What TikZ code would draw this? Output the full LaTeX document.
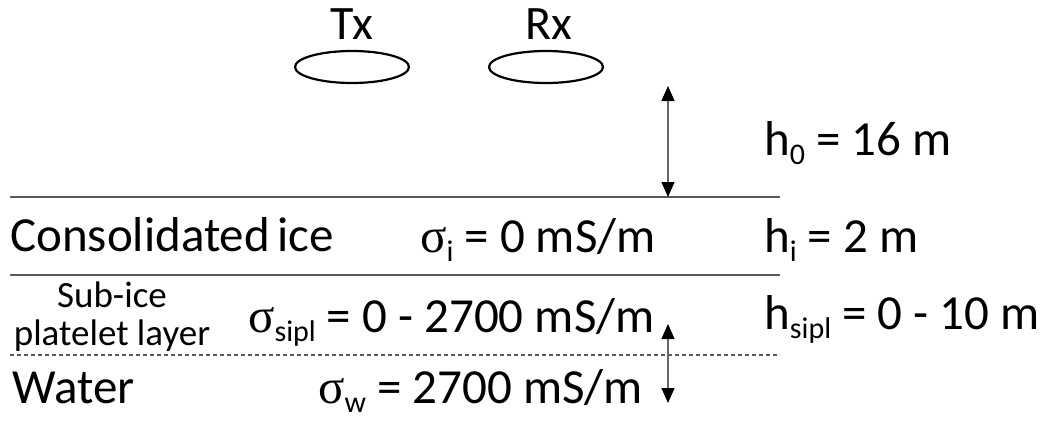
\documentclass[tikz,border=0pt]{standalone}
\usepackage{fontspec}
\setmainfont{Carlito}
\newfontfamily\grk{Liberation Serif}
\usetikzlibrary{arrows.meta,shapes.geometric}
\newcommand\lsub[1]{\raisebox{-0.2em}{\fontsize{30}{32}\selectfont #1}}
\newcommand\sig{{\grk σ}}
\begin{document}
\begin{tikzpicture}[x=1pt,y=-1pt,
  lbl/.style={anchor=base west, inner sep=0pt, font=\fontsize{49}{52}\selectfont},
  small/.style={anchor=base, inner sep=0pt, font=\fontsize{37}{40}\selectfont},
  antenna/.style={ellipse, draw, line width=2.2pt, minimum width=114pt, minimum height=32pt, inner sep=0pt},
  layer/.style={draw=black!65, line width=1.8pt},
  dim/.style={draw=black!60, line width=1.3pt,
    {Triangle[width=13pt,length=15pt,color=black]}-{Triangle[width=13pt,length=15pt,color=black]}}]
\useasboundingbox (0,0) rectangle (1043,421);
% antennas
\node[antenna] (tx) at (352,67) {};
\node[antenna] (rx) at (546,67) {};
\node[anchor=base, inner sep=0pt, font=\fontsize{48}{50}\selectfont] (txl) at (352,39) {Tx};
\node[anchor=base, inner sep=0pt, font=\fontsize{48}{50}\selectfont] (rxl) at (549,39) {Rx};
% layer boundaries
\coordinate (l1a) at (10,197); \coordinate (l1b) at (780,197);
\coordinate (l2a) at (10,275); \coordinate (l2b) at (780,275);
\coordinate (l3a) at (10,355); \coordinate (l3b) at (780,355);
\draw[layer] (l1a) -- (l1b);
\draw[layer] (l2a) -- (l2b);
\draw[draw=black!65, line width=1.6pt, dash pattern=on 4pt off 3pt] (l3a) -- (l3b);
% dimension arrows
\coordinate (d1a) at (668,86); \coordinate (d1b) at (668,197);
\coordinate (d2a) at (668,324); \coordinate (d2b) at (668,403);
\draw[dim] (d1a) -- (d1b);
\draw[dim] (d2a) -- (d2b);
% labels
\node[lbl] (h0) at (764,155) {h\lsub{0} = 16 m};
\node[lbl] (ci) at (10,251) {Consolidated\hspace{-4pt} ice};
\node[lbl] (si) at (420,252) {\sig\lsub{i} = 0 mS/m};
\node[lbl] (hi) at (764,252) {h\lsub{i} = 2 m};
\node[small] (sub) at (112,307) {Sub-ice};
\node[small] (pl) at (112,345) {platelet layer};
\node[lbl] (ss) at (248,332) {\sig\lsub{sipl} = 0 - 2700 mS/m};
\node[lbl] (hs) at (764,329) {h\lsub{sipl} = 0 - 10 m};
\node[lbl] (wa) at (12,403) {Water};
\node[lbl] (sw) at (318,403) {\sig\lsub{w} = 2700 mS/m};
\end{tikzpicture}
\end{document}
